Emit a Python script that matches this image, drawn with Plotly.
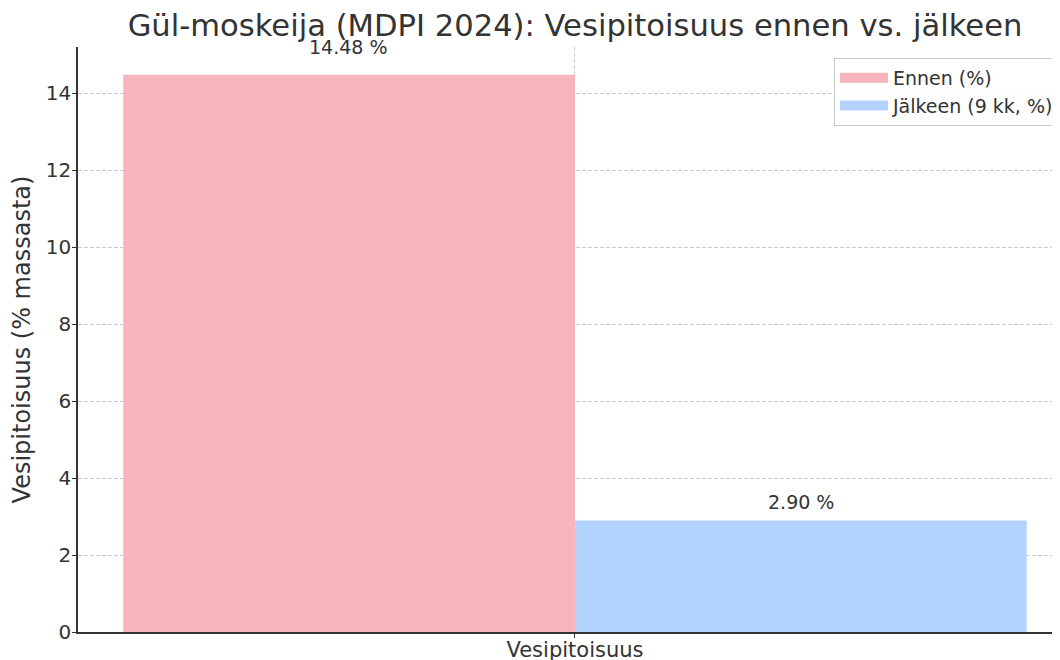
import plotly.graph_objects as go

categories = ["Vesipitoisuus"]
series_names = ["Ennen (%)", "Jälkeen (9 kk, %)"]
before_values = [14.48]
after_values = [2.90]
label_texts = ["14.48 %", "2.90 %"]
colors = ["#F7B6BE", "#B3D3FE"]

FONT = "DejaVu Sans"
TXT = "#333333"

# page body has an 8px default margin, so the figure is sized to fill the rest
W, H = 1052, 652

fig = go.Figure()
for name, vals, col in zip(series_names, [before_values, after_values], colors):
    fig.add_trace(go.Bar(name=name, x=categories, y=vals, showlegend=False,
                         marker=dict(color=col, line=dict(width=0))))
# legend entries drawn as wide colour patches
for name, col in zip(series_names, colors):
    fig.add_trace(go.Scatter(name=name, x=[None], y=[None], mode="lines",
                             line=dict(color=col, width=16)))

ymax = max(before_values + after_values) * 1.05

annotations = []
for i, (vals, txt) in enumerate(zip([before_values, after_values], label_texts)):
    v = vals[0]
    annotations.append(dict(
        x=categories[0], y=v + 0.25 + 0.02 * v, xref="x", yref="y",
        xshift=(-1 if i == 0 else 1) * 226.5, yshift=-6,
        text=txt, showarrow=False, yanchor="bottom",
        font=dict(family=FONT, size=19, color=TXT)))

fig.update_layout(
    width=W, height=H,
    margin=dict(l=70, r=0, t=39, b=28),
    paper_bgcolor="white", plot_bgcolor="white",
    barmode="group", bargap=0.3, bargroupgap=0,
    font=dict(family=FONT, color=TXT, size=20),
    title=dict(text="Gül-moskeija (MDPI 2024): Vesipitoisuus ennen vs. jälkeen",
               x=567 / W, xanchor="center", y=1 - 17 / H, yanchor="middle",
               font=dict(family=FONT, size=30.6, color=TXT)),
    xaxis=dict(range=[-0.385, 0.375], showline=True, linecolor=TXT, linewidth=1.5,
               ticks="outside", ticklen=4, tickcolor=TXT, automargin=False,
               ticklabelstandoff=-6,
               showgrid=True, gridcolor="#cccccc", griddash="4px,2px", gridwidth=1,
               tickfont=dict(family=FONT, size=21, color=TXT), zeroline=False),
    yaxis=dict(range=[0, ymax], showline=True, linecolor=TXT, linewidth=1.5,
               ticks="outside", ticklen=4, tickcolor=TXT, dtick=2, automargin=False,
               ticklabelstandoff=-3,
               showgrid=True, gridcolor="#cccccc", griddash="4px,2px", gridwidth=1,
               zeroline=False,
               tickfont=dict(family=FONT, size=20, color=TXT),
               title=dict(text="Vesipitoisuus (% massasta)", standoff=8,
                          font=dict(family=FONT, size=24, color=TXT))),
    legend=dict(x=(827 - 70) / 982, y=(624 - 50) / 585, xanchor="left", yanchor="top",
                bgcolor="rgba(255,255,255,0.8)", bordercolor="#cccccc", borderwidth=1,
                tracegroupgap=0, itemwidth=48,
                font=dict(family=FONT, size=19, color=TXT)),
    annotations=annotations,
    showlegend=True,
)

fig.write_html("out.html")
